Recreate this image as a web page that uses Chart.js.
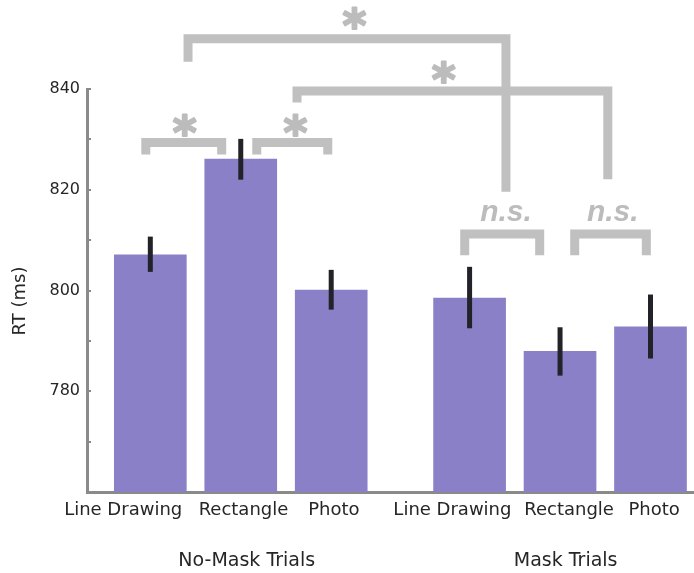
<!DOCTYPE html>
<html><head><meta charset="utf-8">
<script src="https://cdn.jsdelivr.net/npm/chart.js@4/dist/chart.umd.min.js"></script>
<style>html,body{margin:0;padding:0;background:#fff}#wrap{width:694px;height:573px}</style>
</head><body><div id="wrap"><canvas id="c" width="694" height="573"></canvas></div>
<script>
// ---- data ----
const categories = ['Line Drawing', 'Rectangle', 'Photo', 'Line Drawing', 'Rectangle', 'Photo'];
const groups = ['No-Mask Trials', 'Mask Trials'];
const barPositions = [1, 2, 3, 4.53, 5.53, 6.53];
const labelPositions = [0.70, 2.03, 3.03, 4.34, 5.63, 6.57];
const groupPositions = [2.066, 5.592];
const meanRT = [807.1, 826.1, 800.1, 798.5, 787.9, 792.8];
const errLow = [803.7, 822.0, 796.2, 792.5, 783.1, 786.5];
const errHigh = [810.7, 830.1, 804.1, 804.7, 792.7, 799.2];
const yTickLabels = [780, 800, 820, 840];
const yMinorTicks = [770, 780, 790, 800, 810, 820, 830, 840];
// significance brackets (data units): x1,x2 = legs, y = bar, end1/end2 = leg ends, label centre (lx,ly)
const brackets = [
  {x1: 1.417, x2: 4.932, y: 850.0, end1: 845.4, end2: 819.6, label: '*', lx: 3.252, ly: 854.1},
  {x1: 2.622, x2: 6.058, y: 839.6, end1: 837.3, end2: 822.1, label: '*', lx: 4.239, ly: 843.4},
  {x1: 0.950, x2: 1.789, y: 829.4, end1: 827.0, end2: 827.0, label: '*', lx: 1.374, ly: 832.9},
  {x1: 2.177, x2: 2.962, y: 829.4, end1: 827.0, end2: 827.0, label: '*', lx: 2.600, ly: 832.9},
  {x1: 4.476, x2: 5.305, y: 811.2, end1: 807.0, end2: 807.0, label: 'n.s.', lx: 4.92, ly: 815.3},
  {x1: 5.692, x2: 6.484, y: 811.2, end1: 807.0, end2: 807.0, label: 'n.s.', lx: 6.10, ly: 815.3}
];

const AXIS = '#8a8a8a', TXT = '#262626', SIG = '#c0c0c0';

function drawCentered(ctx, text, font, cx, cy, strokeW) {
  ctx.font = font;
  ctx.textAlign = 'left';
  ctx.textBaseline = 'alphabetic';
  const m = ctx.measureText(text);
  const w = m.actualBoundingBoxRight - m.actualBoundingBoxLeft;
  const x = cx - w / 2 + m.actualBoundingBoxLeft;
  const y = cy + (m.actualBoundingBoxAscent - m.actualBoundingBoxDescent) / 2;
  ctx.fillText(text, x, y);
  if (strokeW) { ctx.lineWidth = strokeW; ctx.lineJoin = 'round'; ctx.strokeText(text, x, y); }
}
function sizeForHeight(ctx, text, fontTpl, h) {
  ctx.font = fontTpl.replace('SIZE', '100px');
  const m = ctx.measureText(text);
  return 100 * h / (m.actualBoundingBoxAscent + m.actualBoundingBoxDescent);
}

const extras = {
  id: 'extras',
  afterDatasetsDraw(chart) {
    const ctx = chart.ctx, xs = chart.scales.x, ys = chart.scales.y;
    ctx.save();
    ctx.strokeStyle = '#222228';
    ctx.lineWidth = 5;
    ctx.lineCap = 'butt';
    barPositions.forEach((p, i) => {
      const px = xs.getPixelForValue(p);
      ctx.beginPath();
      ctx.moveTo(px, ys.getPixelForValue(errLow[i]));
      ctx.lineTo(px, ys.getPixelForValue(errHigh[i]));
      ctx.stroke();
    });
    ctx.restore();
  },
  afterDraw(chart) {
    const ctx = chart.ctx, xs = chart.scales.x, ys = chart.scales.y, ca = chart.chartArea;
    ctx.save();
    ctx.strokeStyle = AXIS;
    ctx.lineWidth = 2;
    yMinorTicks.forEach(v => {
      const py = Math.round(ys.getPixelForValue(v));
      ctx.beginPath();
      ctx.moveTo(ca.left, py);
      ctx.lineTo(ca.left + 4, py);
      ctx.stroke();
    });
    ctx.fillStyle = TXT;
    ctx.save();
    ctx.translate(20, 301);
    ctx.rotate(-Math.PI / 2);
    ctx.font = '18px "DejaVu Sans"';
    ctx.textAlign = 'center';
    ctx.textBaseline = 'middle';
    ctx.fillText('RT (ms)', 0, 0);
    ctx.restore();
    ctx.font = '19px "DejaVu Sans"';
    ctx.textAlign = 'center';
    ctx.textBaseline = 'alphabetic';
    groups.forEach((g, i) => ctx.fillText(g, xs.getPixelForValue(groupPositions[i]), 566));
    ctx.strokeStyle = SIG;
    ctx.lineWidth = 9;
    ctx.lineJoin = 'miter';
    ctx.lineCap = 'butt';
    brackets.forEach(b => {
      ctx.beginPath();
      ctx.moveTo(xs.getPixelForValue(b.x1), ys.getPixelForValue(b.end1));
      ctx.lineTo(xs.getPixelForValue(b.x1), ys.getPixelForValue(b.y));
      ctx.lineTo(xs.getPixelForValue(b.x2), ys.getPixelForValue(b.y));
      ctx.lineTo(xs.getPixelForValue(b.x2), ys.getPixelForValue(b.end2));
      ctx.stroke();
    });
    ctx.fillStyle = '#bcbcbc';
    ctx.strokeStyle = '#bcbcbc';
    const astTpl = 'bold SIZE "DejaVu Sans"';
    const astSize = sizeForHeight(ctx, '*', astTpl, 21.5);
    const nsTpl = 'italic bold SIZE "Liberation Sans"';
    brackets.forEach(b => {
      const cx = xs.getPixelForValue(b.lx), cy = ys.getPixelForValue(b.ly);
      if (b.label === '*') drawCentered(ctx, '*', astTpl.replace('SIZE', astSize + 'px'), cx, cy, 2);
      else drawCentered(ctx, b.label, nsTpl.replace('SIZE', '30px'), cx, cy, 0);
    });
    ctx.restore();
  }
};

new Chart(document.getElementById('c'), {
  type: 'bar',
  data: {
    datasets: [{
      data: barPositions.map((x, i) => ({x: x, y: meanRT[i]})),
      backgroundColor: '#8a80c8',
      borderWidth: 0,
      barThickness: 72
    }]
  },
  options: {
    responsive: false,
    animation: false,
    devicePixelRatio: 1,
    layout: {padding: {top: 89, right: 1, left: 0, bottom: 0}},
    plugins: {legend: {display: false}, tooltip: {enabled: false}},
    scales: {
      x: {
        type: 'linear', min: 0.3, max: 7.0, offset: false,
        grid: {display: false, drawTicks: false, offset: false},
        border: {display: true, color: AXIS, width: 3},
        afterBuildTicks: s => { s.ticks = labelPositions.map(v => ({value: v})); },
        ticks: {
          autoSkip: false, maxRotation: 0, minRotation: 0, padding: 8,
          font: {family: 'DejaVu Sans', size: 18}, color: TXT,
          callback: (v, i) => categories[i]
        },
        afterFit: s => { s.height = 81; }
      },
      y: {
        min: 760, max: 840,
        grid: {display: false, drawTicks: false},
        border: {display: true, color: AXIS, width: 3},
        ticks: {
          stepSize: 10, autoSkip: false, padding: 7,
          font: {family: 'DejaVu Sans', size: 16}, color: TXT,
          callback: v => yTickLabels.includes(v) ? String(v) : ''
        },
        afterFit: s => { s.width = 87; }
      }
    }
  },
  plugins: [extras]
});
</script>
</body></html>
